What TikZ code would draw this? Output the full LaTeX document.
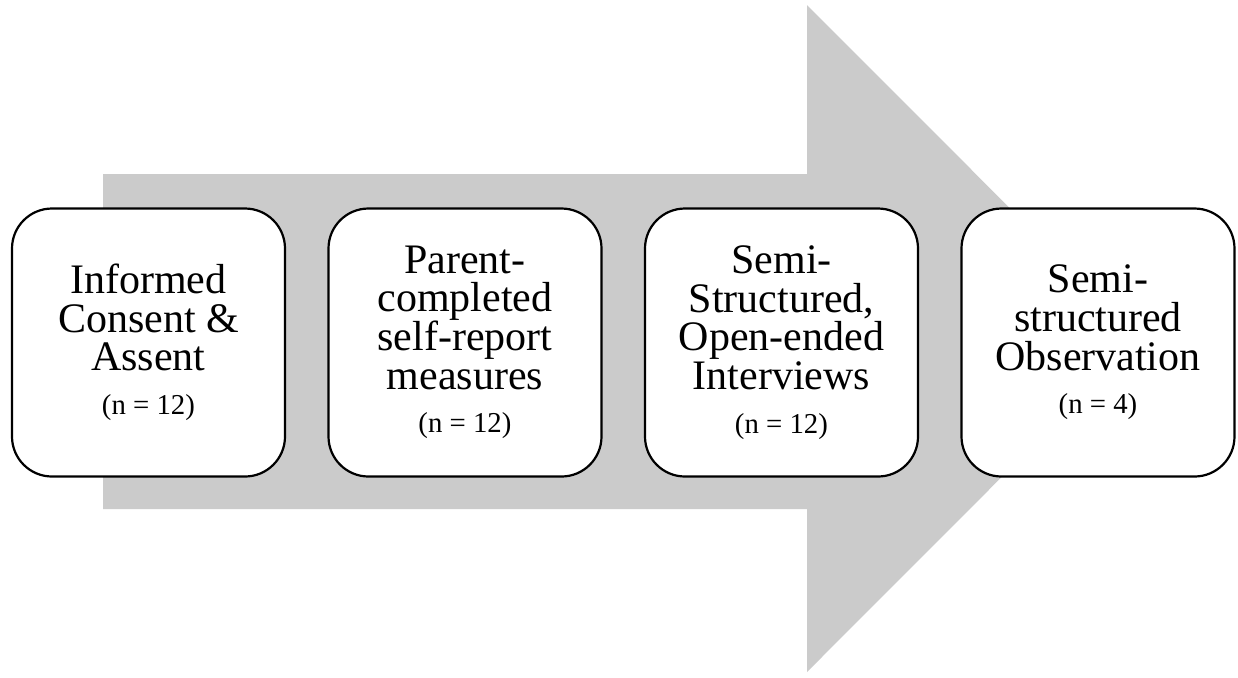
\documentclass[tikz,border=0pt]{standalone}
\usepackage{fontspec}
\setmainfont{Liberation Serif}
\usetikzlibrary{positioning}
\definecolor{arrowgray}{HTML}{CBCBCB}
\newcommand{\stagecount}[1]{\\[2.6pt]{\fontsize{14.4}{17}\selectfont #1}}

\begin{document}
\begin{tikzpicture}[x=0.5pt, y=-0.5pt, line width=1.1pt,
  stagebox/.style={draw=black, fill=white, rounded corners=20pt,
    minimum width=136.5pt, minimum height=134pt, inner sep=0pt, outer sep=0pt,
    align=center, font=\fontsize{21}{19.3}\selectfont},
  node distance=21.75pt]
  \useasboundingbox (0,0) rectangle (1238,677);
  % gray process arrow behind the boxes
  \fill[arrowgray] (103,174) -- (807,174) -- (807,5) -- (1140,338.5)
    -- (807,672) -- (807,509) -- (103,509) -- cycle;

  \node[stagebox] (consent) at (148.5,342.5) {Informed\\Consent \&\\Assent\stagecount{(n = 12)}};
  \node[stagebox, right=of consent] (measures) {Parent-\\completed\\self-report\\measures\stagecount{(n = 12)}};
  \node[stagebox, right=of measures] (interviews) {Semi-\\Structured,\\Open-ended\\Interviews\stagecount{(n = 12)}};
  \node[stagebox, right=of interviews] (observation) {Semi-\\structured\\Observation\stagecount{(n = 4)}};
\end{tikzpicture}
\end{document}
